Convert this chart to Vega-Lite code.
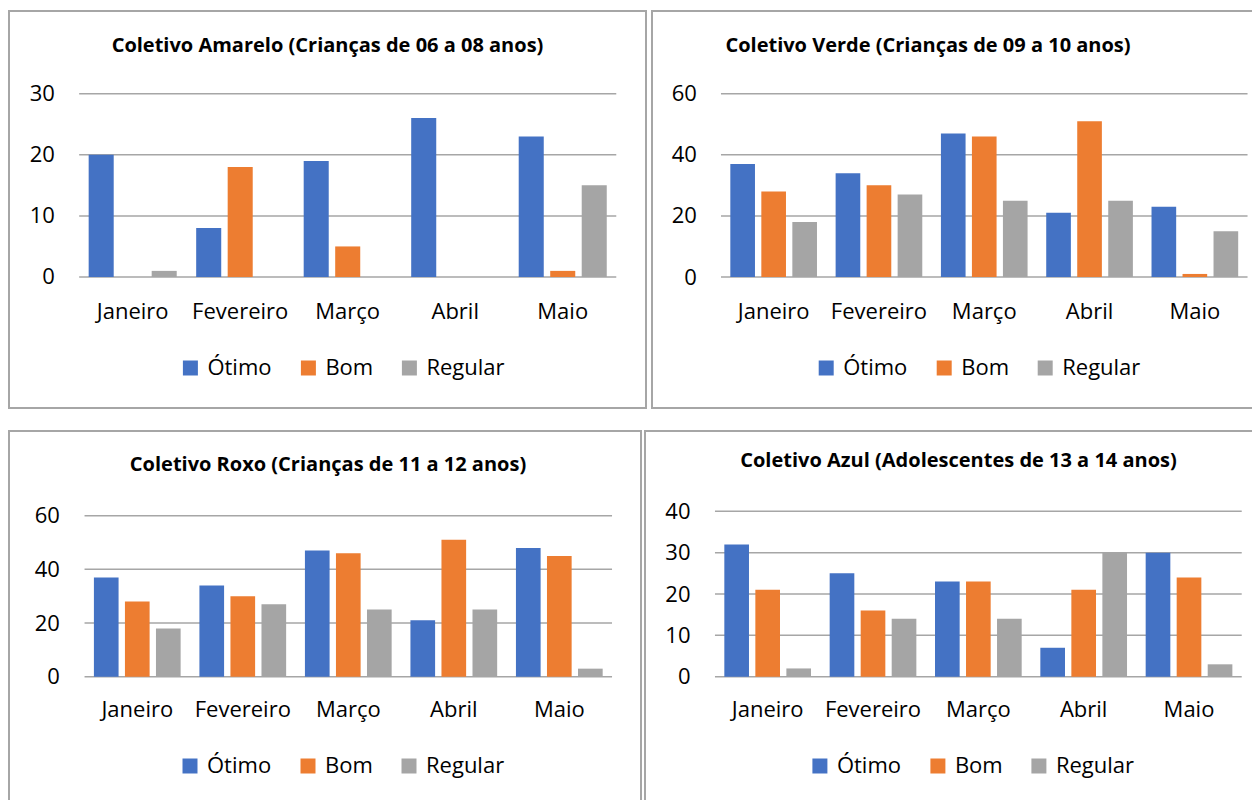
{
  "$schema": "https://vega.github.io/schema/vega-lite/v6.json",
  "background": "white",
  "padding": {"left": 8, "top": 10, "right": 0, "bottom": 0},
  "config": {
    "font": "Open Sans",
    "view": {"stroke": "#a6a6a6", "strokeWidth": 2},
    "axis": {"labelFont": "Open Sans", "labelFontSize": 22, "labelColor": "#000000", "title": null, "domain": false, "ticks": false, "grid": false},
    "axisX": {"labelAlign": "center", "labelAngle": 0, "bandPosition": 0.5},
    "axisY": {"labelAlign": "right", "labelBaseline": "middle"},
    "legend": {"labelFont": "Open Sans", "labelFontSize": 22, "labelColor": "#000000"},
    "title": {"font": "Open Sans", "fontSize": 20, "fontWeight": "bold", "color": "#000000", "anchor": "middle", "frame": "group", "baseline": "alphabetic"}
  },
  "resolve": {"scale": {"color": "independent", "xOffset": "independent", "x": "independent", "y": "independent"}},
  "spacing": 21,
  "vconcat": [
    {
      "spacing": 4,
      "resolve": {"scale": {"color": "independent", "xOffset": "independent", "x": "independent", "y": "independent"}},
      "hconcat": [
        {
          "width": 637, "height": 397,
          "title": {"text": "Coletivo Amarelo (Crianças de 06 a 08 anos)", "offset": -45, "dx": 0},
          "layer": [
            {
              "data": {"values": [{"g": 0}, {"g": 10}, {"g": 20}, {"g": 30}]},
              "mark": {"type": "rule", "color": "#a6a6a6", "strokeWidth": 1.5},
              "encoding": {
                "x": {"datum": "Janeiro", "type": "nominal", "bandPosition": -0.108},
                "x2": {"datum": "Maio", "bandPosition": 1.108},
                "y": {"field": "g", "type": "quantitative"}
              }
            },
            {
              "data": {"values": [
                {"mes": "Janeiro", "cat": "Ótimo", "v": 20}, {"mes": "Janeiro", "cat": "Bom", "v": 0}, {"mes": "Janeiro", "cat": "Regular", "v": 1},
                {"mes": "Fevereiro", "cat": "Ótimo", "v": 8}, {"mes": "Fevereiro", "cat": "Bom", "v": 18}, {"mes": "Fevereiro", "cat": "Regular", "v": 0},
                {"mes": "Março", "cat": "Ótimo", "v": 19}, {"mes": "Março", "cat": "Bom", "v": 5}, {"mes": "Março", "cat": "Regular", "v": 0},
                {"mes": "Abril", "cat": "Ótimo", "v": 26}, {"mes": "Abril", "cat": "Bom", "v": 0}, {"mes": "Abril", "cat": "Regular", "v": 0},
                {"mes": "Maio", "cat": "Ótimo", "v": 23}, {"mes": "Maio", "cat": "Bom", "v": 1}, {"mes": "Maio", "cat": "Regular", "v": 15}
              ]},
              "mark": {"type": "bar"},
              "encoding": {
                "x": {"field": "mes", "type": "nominal", "scale": {"domain": ["Janeiro", "Fevereiro", "Março", "Abril", "Maio"], "paddingInner": 0.181, "paddingOuter": 0.553, "align": 0.67}, "axis": {"labelAngle": 0, "labelAlign": "center", "labelPadding": 24, "offset": -131, "bandPosition": 0.5}},
                "xOffset": {"field": "cat", "type": "nominal", "scale": {"domain": ["Ótimo", "Bom", "Regular"], "paddingInner": 0.205, "paddingOuter": 0}},
                "y": {"field": "v", "type": "quantitative", "scale": {"domain": [-21.44, 43.53], "nice": false, "zero": false}, "axis": {"values": [0, 10, 20, 30], "labelPadding": 25, "offset": -70.3}},
                "y2": {"datum": 0},
                "color": {"field": "cat", "type": "nominal", "scale": {"domain": ["Ótimo", "Bom", "Regular"], "range": ["#4472C4", "#ED7D31", "#A5A5A5"]}, "legend": {"title": null, "orient": "none", "legendX": 170.4, "legendY": 346, "direction": "horizontal", "symbolType": "square", "symbolSize": 225, "symbolStrokeWidth": 0, "labelOffset": 6, "columnPadding": 25, "padding": 0}}
              }
            }
          ]
        },
        {
          "width": 602, "height": 397,
          "title": {"text": "Coletivo Verde (Crianças de 09 a 10 anos)", "offset": -45, "dx": -25},
          "layer": [
            {
              "data": {"values": [{"g": 0}, {"g": 20}, {"g": 40}, {"g": 60}]},
              "mark": {"type": "rule", "color": "#a6a6a6", "strokeWidth": 1.5},
              "encoding": {
                "x": {"datum": "Janeiro", "type": "nominal", "bandPosition": -0.108},
                "x2": {"datum": "Maio", "bandPosition": 1.108},
                "y": {"field": "g", "type": "quantitative"}
              }
            },
            {
              "data": {"values": [
                {"mes": "Janeiro", "cat": "Ótimo", "v": 37}, {"mes": "Janeiro", "cat": "Bom", "v": 28}, {"mes": "Janeiro", "cat": "Regular", "v": 18},
                {"mes": "Fevereiro", "cat": "Ótimo", "v": 34}, {"mes": "Fevereiro", "cat": "Bom", "v": 30}, {"mes": "Fevereiro", "cat": "Regular", "v": 27},
                {"mes": "Março", "cat": "Ótimo", "v": 47}, {"mes": "Março", "cat": "Bom", "v": 46}, {"mes": "Março", "cat": "Regular", "v": 25},
                {"mes": "Abril", "cat": "Ótimo", "v": 21}, {"mes": "Abril", "cat": "Bom", "v": 51}, {"mes": "Abril", "cat": "Regular", "v": 25},
                {"mes": "Maio", "cat": "Ótimo", "v": 23}, {"mes": "Maio", "cat": "Bom", "v": 1}, {"mes": "Maio", "cat": "Regular", "v": 15}
              ]},
              "mark": {"type": "bar"},
              "encoding": {
                "x": {"field": "mes", "type": "nominal", "scale": {"domain": ["Janeiro", "Fevereiro", "Março", "Abril", "Maio"], "paddingInner": 0.177, "paddingOuter": 0.447, "align": 0.832}, "axis": {"labelAngle": 0, "labelAlign": "center", "labelPadding": 24, "offset": -131, "bandPosition": 0.5}},
                "xOffset": {"field": "cat", "type": "nominal", "scale": {"domain": ["Ótimo", "Bom", "Regular"], "paddingInner": 0.205, "paddingOuter": 0}},
                "y": {"field": "v", "type": "quantitative", "scale": {"domain": [-42.88, 87.07], "nice": false, "zero": false}, "axis": {"values": [0, 20, 40, 60], "labelPadding": 25, "offset": -69.3}},
                "y2": {"datum": 0},
                "color": {"field": "cat", "type": "nominal", "scale": {"domain": ["Ótimo", "Bom", "Regular"], "range": ["#4472C4", "#ED7D31", "#A5A5A5"]}, "legend": {"title": null, "orient": "none", "legendX": 163.2, "legendY": 346, "direction": "horizontal", "symbolType": "square", "symbolSize": 225, "symbolStrokeWidth": 0, "labelOffset": 6, "columnPadding": 25, "padding": 0}}
              }
            }
          ]
        }
      ]
    },
    {
      "spacing": 2,
      "resolve": {"scale": {"color": "independent", "xOffset": "independent", "x": "independent", "y": "independent"}},
      "hconcat": [
        {
          "width": 632, "height": 372,
          "title": {"text": "Coletivo Roxo (Crianças de 11 a 12 anos)", "offset": -44, "dx": 3},
          "layer": [
            {
              "data": {"values": [{"g": 0}, {"g": 20}, {"g": 40}, {"g": 60}]},
              "mark": {"type": "rule", "color": "#a6a6a6", "strokeWidth": 1.5},
              "encoding": {
                "x": {"datum": "Janeiro", "type": "nominal", "bandPosition": -0.108},
                "x2": {"datum": "Maio", "bandPosition": 1.108},
                "y": {"field": "g", "type": "quantitative"}
              }
            },
            {
              "data": {"values": [
                {"mes": "Janeiro", "cat": "Ótimo", "v": 37}, {"mes": "Janeiro", "cat": "Bom", "v": 28}, {"mes": "Janeiro", "cat": "Regular", "v": 18},
                {"mes": "Fevereiro", "cat": "Ótimo", "v": 34}, {"mes": "Fevereiro", "cat": "Bom", "v": 30}, {"mes": "Fevereiro", "cat": "Regular", "v": 27},
                {"mes": "Março", "cat": "Ótimo", "v": 47}, {"mes": "Março", "cat": "Bom", "v": 46}, {"mes": "Março", "cat": "Regular", "v": 25},
                {"mes": "Abril", "cat": "Ótimo", "v": 21}, {"mes": "Abril", "cat": "Bom", "v": 51}, {"mes": "Abril", "cat": "Regular", "v": 25},
                {"mes": "Maio", "cat": "Ótimo", "v": 48}, {"mes": "Maio", "cat": "Bom", "v": 45}, {"mes": "Maio", "cat": "Regular", "v": 3}
              ]},
              "mark": {"type": "bar"},
              "encoding": {
                "x": {"field": "mes", "type": "nominal", "scale": {"domain": ["Janeiro", "Fevereiro", "Março", "Abril", "Maio"], "paddingInner": 0.178, "paddingOuter": 0.584, "align": 0.689}, "axis": {"labelAngle": 0, "labelAlign": "center", "labelPadding": 23, "offset": -126.3, "bandPosition": 0.5}},
                "xOffset": {"field": "cat", "type": "nominal", "scale": {"domain": ["Ótimo", "Bom", "Regular"], "paddingInner": 0.205, "paddingOuter": 0}},
                "y": {"field": "v", "type": "quantitative", "scale": {"domain": [-47.07, 91.57], "nice": false, "zero": false}, "axis": {"values": [0, 20, 40, 60], "labelPadding": 25, "offset": -75.3}},
                "y2": {"datum": 0},
                "color": {"field": "cat", "type": "nominal", "scale": {"domain": ["Ótimo", "Bom", "Regular"], "range": ["#4472C4", "#ED7D31", "#A5A5A5"]}, "legend": {"title": null, "orient": "none", "legendX": 170, "legendY": 324, "direction": "horizontal", "symbolType": "square", "symbolSize": 225, "symbolStrokeWidth": 0, "labelOffset": 6, "columnPadding": 25, "padding": 0}}
              }
            }
          ]
        },
        {
          "width": 610, "height": 372,
          "title": {"text": "Coletivo Azul  (Adolescentes de 13 a 14 anos)", "offset": -39.5, "dx": 8.5},
          "layer": [
            {
              "data": {"values": [{"g": 0}, {"g": 10}, {"g": 20}, {"g": 30}, {"g": 40}]},
              "mark": {"type": "rule", "color": "#a6a6a6", "strokeWidth": 1.5},
              "encoding": {
                "x": {"datum": "Janeiro", "type": "nominal", "bandPosition": -0.108},
                "x2": {"datum": "Maio", "bandPosition": 1.108},
                "y": {"field": "g", "type": "quantitative"}
              }
            },
            {
              "data": {"values": [
                {"mes": "Janeiro", "cat": "Ótimo", "v": 32}, {"mes": "Janeiro", "cat": "Bom", "v": 21}, {"mes": "Janeiro", "cat": "Regular", "v": 2},
                {"mes": "Fevereiro", "cat": "Ótimo", "v": 25}, {"mes": "Fevereiro", "cat": "Bom", "v": 16}, {"mes": "Fevereiro", "cat": "Regular", "v": 14},
                {"mes": "Março", "cat": "Ótimo", "v": 23}, {"mes": "Março", "cat": "Bom", "v": 23}, {"mes": "Março", "cat": "Regular", "v": 14},
                {"mes": "Abril", "cat": "Ótimo", "v": 7}, {"mes": "Abril", "cat": "Bom", "v": 21}, {"mes": "Abril", "cat": "Regular", "v": 30},
                {"mes": "Maio", "cat": "Ótimo", "v": 30}, {"mes": "Maio", "cat": "Bom", "v": 24}, {"mes": "Maio", "cat": "Regular", "v": 3}
              ]},
              "mark": {"type": "bar"},
              "encoding": {
                "x": {"field": "mes", "type": "nominal", "scale": {"domain": ["Janeiro", "Fevereiro", "Março", "Abril", "Maio"], "paddingInner": 0.177, "paddingOuter": 0.484, "align": 0.778}, "axis": {"labelAngle": 0, "labelAlign": "center", "labelPadding": 23, "offset": -126.3, "bandPosition": 0.5}},
                "xOffset": {"field": "cat", "type": "nominal", "scale": {"domain": ["Ótimo", "Bom", "Regular"], "paddingInner": 0.205, "paddingOuter": 0}},
                "y": {"field": "v", "type": "quantitative", "scale": {"domain": [-30.54, 59.42], "nice": false, "zero": false}, "axis": {"values": [0, 10, 20, 30, 40], "labelPadding": 25, "offset": -70}},
                "y2": {"datum": 0},
                "color": {"field": "cat", "type": "nominal", "scale": {"domain": ["Ótimo", "Bom", "Regular"], "range": ["#4472C4", "#ED7D31", "#A5A5A5"]}, "legend": {"title": null, "orient": "none", "legendX": 163.9, "legendY": 324, "direction": "horizontal", "symbolType": "square", "symbolSize": 225, "symbolStrokeWidth": 0, "labelOffset": 6, "columnPadding": 25, "padding": 0}}
              }
            }
          ]
        }
      ]
    }
  ]
}
